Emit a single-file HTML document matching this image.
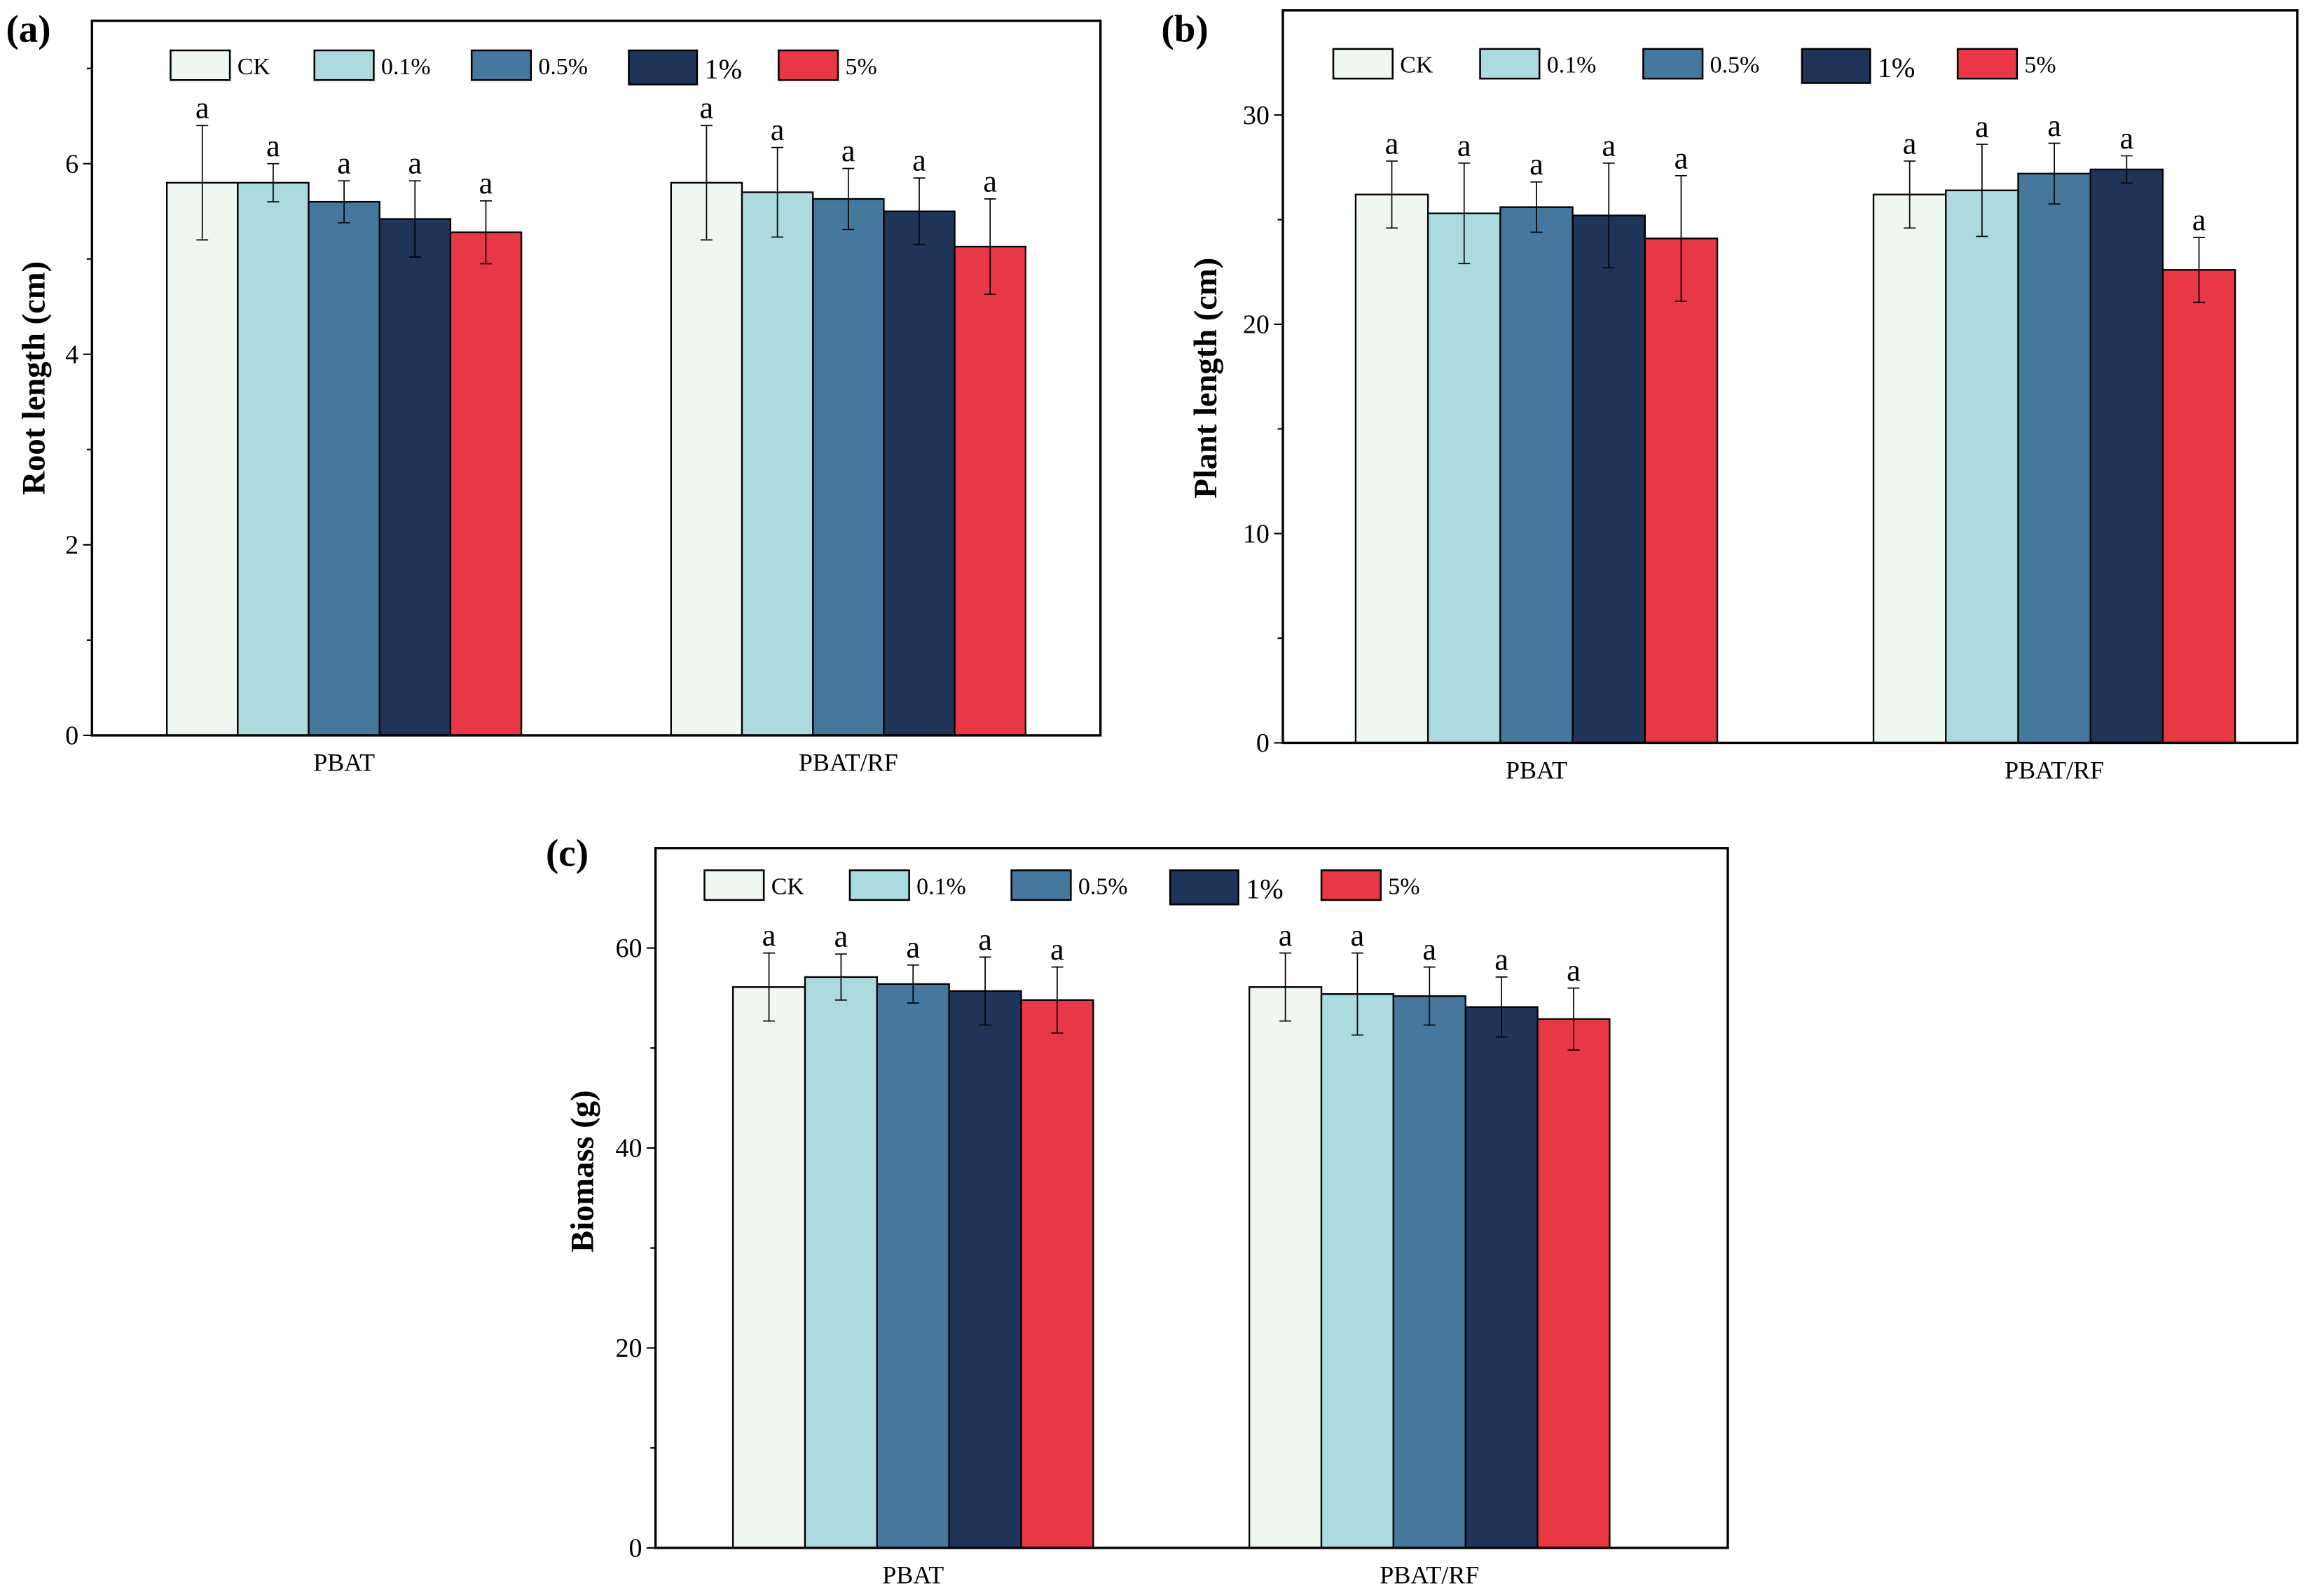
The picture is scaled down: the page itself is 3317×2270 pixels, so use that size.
<!DOCTYPE html>
<html><head><meta charset="utf-8"><style>
html,body{margin:0;padding:0;background:#fff;}
svg{display:block;}
text{font-family:"Liberation Serif",serif;}
</style></head>
<body>
<svg id="fig" width="3317" height="2270" viewBox="0 0 1567 1072.4" xmlns="http://www.w3.org/2000/svg"></svg>
<script>
const series = ["CK","0.1%","0.5%","1%","5%"];
const categories = ["PBAT","PBAT/RF"];
const colors = ["#eef8f0","#acdbdf","#45789c","#1f3458","#e83745"];
const rootMeans = [[5.8,5.8,5.6,5.42,5.28],[5.8,5.7,5.63,5.5,5.13]];
const rootErrs  = [[0.6,0.2,0.22,0.4,0.33],[0.6,0.47,0.32,0.35,0.5]];
const plantMeans = [[26.2,25.3,25.6,25.2,24.1],[26.2,26.4,27.2,27.4,22.6]];
const plantErrs  = [[1.6,2.4,1.2,2.5,3.0],[1.6,2.2,1.45,0.65,1.55]];
const bioMeans = [[56.1,57.1,56.4,55.7,54.8],[56.1,55.4,55.2,54.1,52.9]];
const bioErrs  = [[3.4,2.3,1.9,3.4,3.3],[3.4,4.1,2.9,3.0,3.1]];
const rootTicks = [0,2,4,6];
const plantTicks = [0,10,20,30];
const bioTicks = [0,20,40,60];

const NS="http://www.w3.org/2000/svg";
const svg=document.getElementById('fig');
function mk(tag,attrs,parent){const e=document.createElementNS(NS,tag);for(const k in attrs)e.setAttribute(k,attrs[k]);(parent||svg).appendChild(e);return e;}

function panel(p){
  const g=mk('g',{});
  
  
  const W=p.x1-p.x0,H=p.y1-p.y0;
  const y=v=>p.y1-(v/p.ymax)*H;
  const x=f=>p.x0+f*W;
  const bw=W*p.bwf;
  categories.forEach((c,ci)=>{
    const center=x(p.centers[ci]);
    series.forEach((s,si)=>{
      const v=p.means[ci][si],e=p.errs[ci][si];
      const bx=center+(si-2.5)*bw;
      const r=mk('rect',{x:bx,y:y(v),width:bw,height:p.y1-y(v),fill:colors[si],stroke:'#000','stroke-width':1.1},g);
      
      
      const cx=bx+bw/2;
      const eb=mk('path',{d:`M${cx},${y(v+e)}V${y(v-e)}M${cx-4},${y(v+e)}H${cx+4}M${cx-4},${y(v-e)}H${cx+4}`,stroke:'#000','stroke-width':0.8,fill:'none'},g);
      
      
      const t=mk('text',{x:cx,y:y(v+e)-5,'font-size':21,'text-anchor':'middle'},g);
      t.textContent='a';
      
      
    });
    const xl=mk('text',{x:center,y:p.y1+24,'font-size':17,'text-anchor':'middle'},g);
    xl.textContent=c;
    
    
  });
  p.ticks.forEach(tv=>{
    mk('line',{x1:p.x0-6,x2:p.x0,y1:y(tv),y2:y(tv),stroke:'#000','stroke-width':1},g);
    const t=mk('text',{x:p.x0-9,y:y(tv)+6,'font-size':18,'text-anchor':'end'},g);
    t.textContent=tv;
    
    
    const mv=tv+p.step/2;
    if(mv<p.ymax) mk('line',{x1:p.x0-3.5,x2:p.x0,y1:y(mv),y2:y(mv),stroke:'#000','stroke-width':1},g);
  });
  const fr=mk('rect',{x:p.x0,y:p.y0,width:W,height:H,fill:'none',stroke:'#000','stroke-width':1.6},g);
  
  
  const yt=mk('text',{x:p.tx,y:p.ty,'font-size':22,'font-weight':'bold','text-anchor':'middle',transform:`rotate(-90 ${p.tx} ${p.ty})`},g);
  yt.textContent=p.title;
  
  
  const pl=mk('text',{x:p.lx,y:p.ly,'font-size':26,'font-weight':'bold'},g);
  pl.textContent=p.label;
  
  
  series.forEach((s,si)=>{
    const lx=p.x0+p.offs[si];
    const big=si===3;
    const bh=big?23:20, bwid=big?46:40;
    const lg=mk('g',{},g);
    
    
    mk('rect',{x:lx,y:p.legY,width:bwid,height:bh,fill:colors[si],stroke:'#000','stroke-width':1.2},lg);
    const t=mk('text',{x:lx+bwid+5,y:p.legY+16+(big?3:0),'font-size':big?19:16},lg);
    t.textContent=s;
  });
}

panel({name:'panel-a-root-length',x0:62,x1:742,y0:14,y1:496,ymax:7.5,step:2,ticks:rootTicks,means:rootMeans,errs:rootErrs,title:'Root length (cm)',tx:30,ty:255,label:'(a)',lx:4,ly:28,legY:34,centers:[0.25,0.75],bwf:0.0703,offs:[53,150,256,362,463]});
panel({name:'panel-b-plant-length',x0:865,x1:1549,y0:7,y1:501,ymax:35,step:10,ticks:plantTicks,means:plantMeans,errs:plantErrs,title:'Plant length (cm)',tx:820,ty:255,label:'(b)',lx:783,ly:28,legY:33,centers:[0.25,0.7605],bwf:0.0713,offs:[34,133,243,350,455]});
panel({name:'panel-c-biomass',x0:442,x1:1165,y0:572,y1:1044,ymax:70,step:20,ticks:bioTicks,means:bioMeans,errs:bioErrs,title:'Biomass (g)',tx:400,ty:790,label:'(c)',lx:368,ly:584,legY:587,centers:[0.2402,0.7218],bwf:0.0672,offs:[33,131,240,347,449]});
</script>
</body></html>
